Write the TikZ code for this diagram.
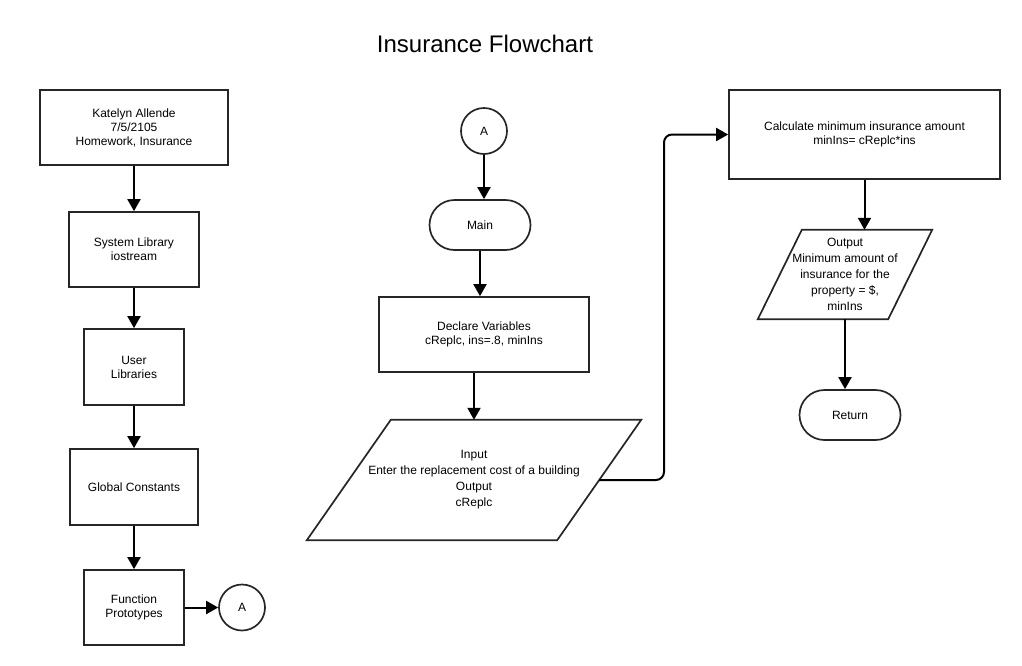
\documentclass[tikz,border=0pt]{standalone}
\usepackage{fontspec}
\setmainfont{Liberation Sans}
\usetikzlibrary{arrows.meta}
\tikzstyle{block}=[draw=black!85, line width=1.7pt, align=center, inner sep=2pt, minimum height=75pt]
\tikzstyle{term}=[draw=black!85, line width=1.7pt, rounded corners=25pt, minimum width=101pt, minimum height=50pt]
\tikzstyle{conn}=[circle, draw=black!85, line width=1.7pt, minimum size=46pt, inner sep=0pt]
\tikzstyle{io}=[align=center, inner sep=0pt, font=\fontsize{12pt}{16pt}\selectfont]
\tikzstyle{iobox}=[draw=black!85, line width=1.7pt]
\tikzstyle{arr}=[-{Triangle[width=13pt,length=12pt]}, line width=2pt]
\begin{document}
\begin{tikzpicture}[x=1pt, y=-1pt, every node/.style={font=\fontsize{12pt}{14pt}\selectfont}]
	\useasboundingbox (0,0) rectangle (1022,665);

	\node (title) at (485,44) {\fontsize{24pt}{28pt}\selectfont Insurance Flowchart};

		% Left column (header and libraries)
		\node[block, minimum width=188pt] (head) at (134,127.5) {Katelyn Allende\\7/5/2105\\Homework, Insurance};
		\node[block, minimum width=130pt] (syslib) at (134,249.5) {System Library\\iostream};
		\node[block, minimum width=100pt, minimum height=76pt] (usrlib) at (134,367) {User\\Libraries};
		\node[block, minimum width=128pt, minimum height=76pt] (glob) at (134,487) {Global Constants};
		\node[block, minimum width=100pt] (proto) at (134,607.5) {Function\\Prototypes};
		\node[conn] (a1) at (242,607.5) {A};

		% Middle column (main)
		\node[conn] (a2) at (484,131) {A};
		\node[term] (main) at (480,225) {Main};
		\node[block, minimum width=210pt] (decl) at (484,334.5) {Declare Variables\\cReplc, ins=.8, minIns};
		\node[io, minimum width=250pt, minimum height=120pt] (inp) at (474,480)
			{Input\\Enter the replacement cost of a building\\Output\\cReplc};
		% parallelogram round the input text
		\draw[iobox] ([xshift=42pt]inp.north west) -- ([xshift=42pt]inp.north east)
			-- ([xshift=-42pt]inp.south east) -- ([xshift=-42pt]inp.south west) -- cycle;

		% Right column (calculation and output)
		\node[block, minimum width=271pt, minimum height=89pt] (calc) at (864.5,134.5) {Calculate minimum insurance amount\\minIns= cReplc*ins};
		\node[io, minimum width=130pt, minimum height=89pt] (out) at (845,274.5)
			{Output\\Minimum amount of\\insurance for the\\property = \$,\\minIns};
		\draw[iobox] ([xshift=22pt]out.north west) -- ([xshift=22pt]out.north east)
			-- ([xshift=-22pt]out.south east) -- ([xshift=-22pt]out.south west) -- cycle;
		\node[term] (ret) at (850,415) {Return};
		\coordinate (bend) at (664,300);

		\foreach \from/\to in {head/syslib, syslib/usrlib, usrlib/glob, glob/proto, proto/a1}
		\draw[arr] (\from) -- (\to);

		\draw[arr] (a2.south) -- (a2.south |- main.north);
		\draw[arr] (main.south) -- (main.south |- decl.north);
		\draw[arr] (decl.south -| inp.north) -- (inp.north);
		\draw[arr, rounded corners=8pt] (inp.east) -| (bend) |- (calc.west);
		\draw[arr] (calc.south) -- (calc.south |- out.north);
		\draw[arr] (out.south) -- (out.south |- ret.north);
\end{tikzpicture}
\end{document}
